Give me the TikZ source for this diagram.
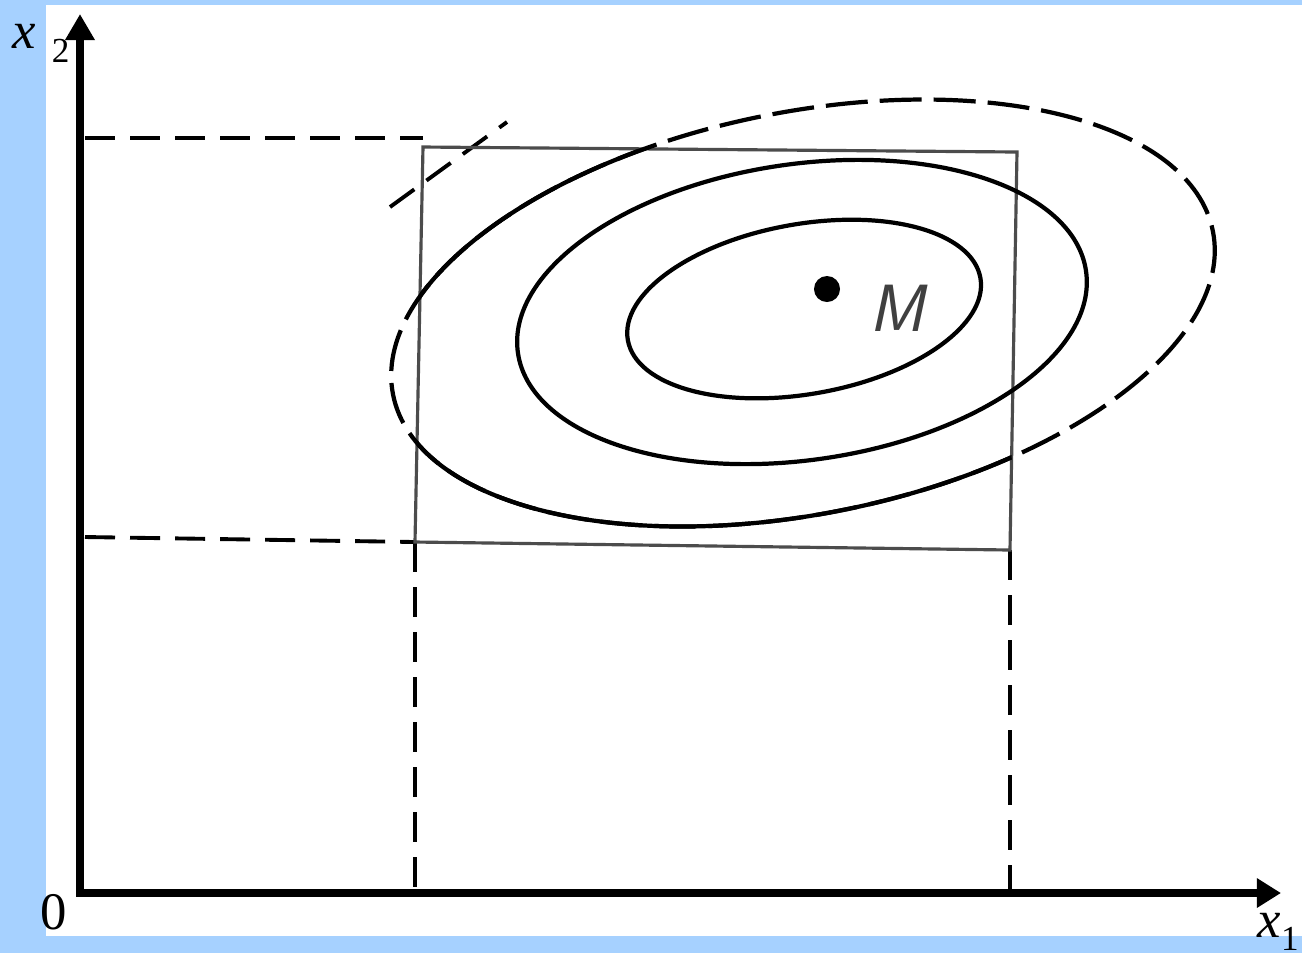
\documentclass[tikz,border=0pt]{standalone}
\usepackage{fontspec}
\setmainfont{Liberation Serif}
\usetikzlibrary{arrows.meta}
\definecolor{frameblue}{RGB}{166,209,255}
\begin{document}
\begin{tikzpicture}[x=0.01cm, y=-0.01cm,
      axis/.style={line width=0.08cm,
          {Triangle[width=0.28cm,length=0.26cm]}-{Triangle[width=0.28cm,length=0.24cm]}},
      guide/.style={line width=1.1pt, dash pattern=on 0.3cm off 0.15cm},
      boxline/.style={line width=0.9pt, black!70},
      level/.style={line width=1.2pt},
      outer/.style={line width=1.2pt, dash pattern=on 0.42cm off 0.12cm},
      lbl/.style={font=\fontsize{15}{18}\selectfont, inner sep=0pt}
    ]
    % frame
    \fill[frameblue] (0,0) rectangle (1302,953);
    \fill[white] (46,5) rectangle (1302,936);
    \useasboundingbox (0,0) rectangle (1302,953);

    \coordinate (O)  at (80,893);
    \coordinate (Xt) at (1281,893);
    \coordinate (Yt) at (80,14);
    % tolerance box
    \coordinate (A) at (423,147);
    \coordinate (B) at (1017,152);
    \coordinate (C) at (1010,550);
    \coordinate (D) at (415,542);
    \coordinate (ya) at (85,138);
    \coordinate (yb) at (85,537);
    \coordinate (t1) at (390,207);
    \coordinate (t2) at (507,122);
    % level centres
    \coordinate (c1) at (804,309);
    \coordinate (c2) at (802,312);
    \coordinate (c3) at (803,313);

    \draw[guide] (ya) -- (ya -| A);
    \draw[guide] (yb) -- (D);
    \draw[guide] (D) -- (D |- O);
    \draw[guide] (C) -- (C |- O);
    \draw[guide] (t1) -- (t2);

    \draw[boxline] (A) -- (B) -- (C) -- (D) -- cycle;

    \draw[level, rotate around={10:(c1)}] (c1) ellipse [x radius=179, y radius=85];
    \draw[level, rotate around={8.2:(c2)}] (c2) ellipse [x radius=287, y radius=148];
    \draw[outer, rotate around={11.3:(c3)}] (c3) ellipse [x radius=418, y radius=201];
    \begin{scope}
      \clip (A) -- (B) -- (C) -- (D) -- cycle;
      \draw[level, rotate around={11.3:(c3)}] (c3) ellipse [x radius=418, y radius=201];
    \end{scope}

    \node[circle, fill, minimum size=0.26cm, inner sep=0pt] (Mdot) at (827,289) {};
    \node[font=\fontsize{19}{22}\selectfont\sffamily\itshape, text=black!75] (Mlbl) at (897,308) {M};

    \draw[axis] (Yt) -- (O) -- (Xt);

    \node[lbl, anchor=base west] (ylbl) at (12,48)
      {\textit{x}\hspace{0.3em}\raisebox{-0.6ex}{\fontsize{10}{12}\selectfont 2}};
    \node[lbl, anchor=base west] (xlbl) at (1257,937)
      {\textit{x}\raisebox{-0.55ex}{\fontsize{10}{12}\selectfont 1}};
    \node[lbl, anchor=base] (olbl) at (54,929) {0};
  \end{tikzpicture}
\end{document}
